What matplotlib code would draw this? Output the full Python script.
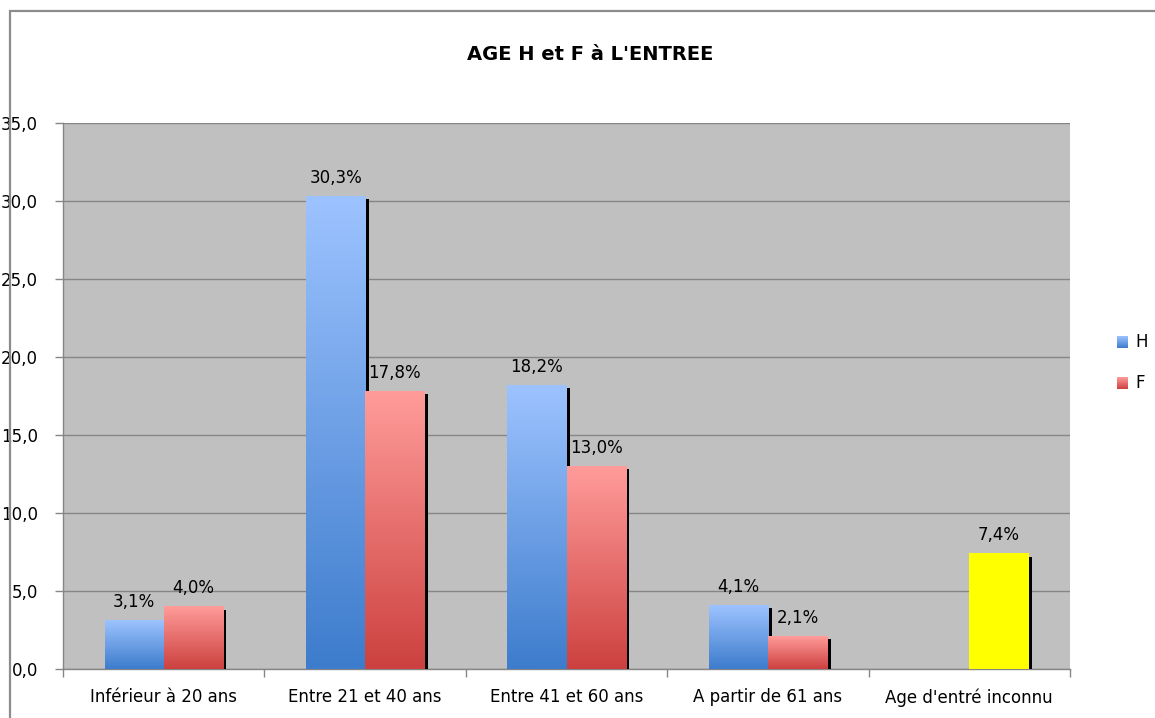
import numpy as np
import matplotlib
matplotlib.use("Agg")
import matplotlib.pyplot as plt
from matplotlib.patches import Rectangle
from matplotlib.lines import Line2D
from matplotlib.colors import to_rgb

# ---- data ----
categories = ["Inférieur à 20 ans", "Entre 21 et 40 ans", "Entre 41 et 60 ans",
              "A partir de 61 ans", "Age d'entré inconnu"]
H_values = [3.1, 30.3, 18.2, 4.1, None]
F_values = [4.0, 17.8, 13.0, 2.1, 7.4]
series_names = ["H", "F"]
yticks = [0, 5, 10, 15, 20, 25, 30, 35]
title = "AGE H et F à L'ENTREE"

plt.rcParams['font.family'] = ['DejaVu Sans']

W, Hpx = 1155, 718
fig = plt.figure(figsize=(W / 100, Hpx / 100), dpi=100)
fig.patch.set_facecolor('white')

# outer chart frame (only top and left edges visible, rest cropped)
fc = '#8c8c8c'
ytop = 1 - 11 / Hpx
fig.add_artist(Line2D([10 / W, 10 / W, 1.2], [-0.2, ytop, ytop],
                      transform=fig.transFigure, color=fc, linewidth=1.6,
                      solid_joinstyle='miter', solid_capstyle='butt'))

ax = fig.add_axes([63 / W, (Hpx - 669) / Hpx, (1070 - 63) / W, (669 - 123) / Hpx])
ax.set_facecolor('#c0c0c0')

bw = 0.293
sx = 0.018   # shadow x offset
sy = 0.2     # shadow y offset

H_grad = ('#3d7ccc', '#9dc3ff')
F_grad = ('#cc413f', '#ff9c9a')
Y_grad = ('#ffff00', '#ffff00')

FS = 12


def grad_bar(x0, v, cols, z):
    c0 = np.array(to_rgb(cols[0]))
    c1 = np.array(to_rgb(cols[1]))
    t = np.linspace(0, 1, 256)[:, None, None]
    img = c0 * (1 - t) + c1 * t
    # shadow
    ax.add_patch(Rectangle((x0 + sx, 0), bw, v - sy, facecolor='black',
                           edgecolor='none', zorder=z - 0.5))
    ax.imshow(img, origin='lower', extent=[x0, x0 + bw, 0, v],
              aspect='auto', zorder=z, interpolation='bilinear')


def fmt(v):
    return f"{v:.1f}".replace('.', ',') + '%'


for i, (h, f) in enumerate(zip(H_values, F_values)):
    z = 3 + i * 2
    if h is not None:
        grad_bar(i - bw, h, H_grad, z)
        ax.text(i - bw / 2, h + 0.6, fmt(h), ha='center', va='bottom',
                fontsize=FS, color='black', zorder=20)
    cols = F_grad if h is not None else Y_grad
    grad_bar(i, f, cols, z + 1)
    ax.text(i + bw / 2, f + 0.6, fmt(f), ha='center', va='bottom',
            fontsize=FS, color='black', zorder=20)

ax.set_xlim(-0.5, len(categories) - 0.5)
ax.set_ylim(0, 35)
ax.set_yticks(yticks)
ax.set_yticklabels([f"{v:.1f}".replace('.', ',') for v in yticks], fontsize=FS)
ax.yaxis.grid(True, color='#868686', linewidth=1)
ax.set_axisbelow(True)

ax.set_xticks(np.arange(len(categories)))
ax.set_xticklabels(categories, fontsize=12)
ax.tick_params(axis='x', which='major', length=0, pad=14)
ax.set_xticks(np.arange(len(categories) + 1) - 0.5, minor=True)
ax.tick_params(axis='x', which='minor', length=6, color='#868686', width=1)
ax.tick_params(axis='y', length=6, color='#868686', width=1, pad=12)

for s in ['top', 'right']:
    ax.spines[s].set_visible(False)
for s in ['left', 'bottom']:
    ax.spines[s].set_color('#868686')
    ax.spines[s].set_linewidth(1)

fig.text(590 / W, 1 - 55 / Hpx, title, ha='center', va='center',
         fontsize=14, fontweight='bold')

# legend
leg_cols = [H_grad, F_grad]
for k, (name, cols) in enumerate(zip(series_names, leg_cols)):
    yc = 342 + k * 41
    c0 = np.array(to_rgb(cols[0]))
    c1 = np.array(to_rgb(cols[1]))
    t = np.linspace(0, 1, 64)[:, None, None]
    img = c0 * (1 - t) + c1 * t
    lax = fig.add_axes([1117 / W, 1 - (yc + 6) / Hpx, 11 / W, 12 / Hpx])
    lax.imshow(img, origin='lower', aspect='auto', extent=[0, 1, 0, 1])
    lax.axis('off')
    fig.text(1135 / W, 1 - yc / Hpx, name, ha='left', va='center', fontsize=FS)

fig.savefig('out.png', dpi=100, facecolor='white')
